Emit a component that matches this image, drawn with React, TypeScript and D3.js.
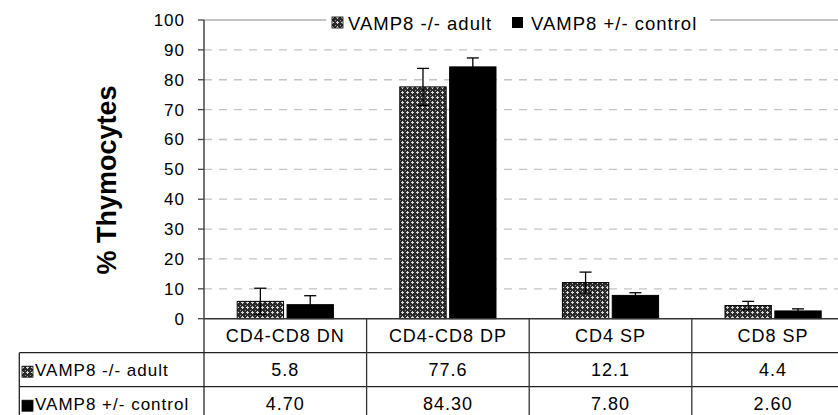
import React from "react";
import * as d3 from "d3";

// Thymocyte subsets (% of total) for VAMP8 knockout vs. heterozygous control
const categories = ["CD4-CD8 DN", "CD4-CD8 DP", "CD4 SP", "CD8 SP"];
const seriesNames = ["VAMP8 -/- adult", "VAMP8 +/- control"];
const koValues = [5.8, 77.6, 12.1, 4.4];
const ctrlValues = [4.7, 84.3, 7.8, 2.6];
const koErrors = [4.4, 6.2, 3.5, 1.4];
const ctrlErrors = [3.0, 3.0, 0.9, 0.7];
const yTicks = [0, 10, 20, 30, 40, 50, 60, 70, 80, 90, 100];

const W = 838;
const H = 415;
const FONT = "'Liberation Sans', Arial, Helvetica, sans-serif";

export default function App() {
  const axisX = 204;
  const catW = 162.6;
  const y = d3.scaleLinear().domain([0, 100]).range([318.7, 20]);
  const x = d3
    .scaleBand<string>()
    .domain(categories)
    .range([axisX, axisX + catW * categories.length]);
  const barW = catW * 0.285;
  const gap = 3.5;
  const sx = d3
    .scaleOrdinal<string, number>()
    .domain(seriesNames)
    .range([-gap / 2 - barW, gap / 2]);

  const series = [
    { name: seriesNames[0], values: koValues, errors: koErrors, fill: "url(#checker)", fmt: d3.format(".1f") },
    { name: seriesNames[1], values: ctrlValues, errors: ctrlErrors, fill: "#000", fmt: d3.format(".2f") },
  ];

  const tableLeft = 19.3;
  const rowH = 34;
  const headTop = y(0);
  const rowTops = [headTop, headTop + rowH, headTop + rowH * 2, headTop + rowH * 3];
  const right = W + 20;
  const ls = 1;

  return (
    <svg
      width={W}
      height={H}
      style={{ position: "absolute", left: 0, top: 0, background: "#fff" }}
      fontFamily={FONT}
    >
      <defs>
        <pattern id="checker" width="5" height="5" patternUnits="userSpaceOnUse">
          <rect width="5" height="5" fill="#2a2a2a" />
          <rect x="1" y="2" width="3" height="1" fill="#d8d8d8" />
          <rect x="2" y="1" width="1" height="3" fill="#d8d8d8" />
          <rect x="0" y="0" width="1" height="1" fill="#9a9a9a" />
        </pattern>
      </defs>

      {/* gridlines */}
      {yTicks.filter((t) => t > 0 && t < 100).map((t) => (
        <line
          key={t}
          x1={axisX}
          x2={W}
          y1={y(t)}
          y2={y(t)}
          stroke="#c4c4c4"
          strokeWidth={1.3}
          strokeDasharray="8 7"
        />
      ))}
      <line x1={axisX} x2={W} y1={y(100)} y2={y(100)} stroke="#b0b0b0" strokeWidth={1.5} />

      {/* bars */}
      {series.map((s) =>
        categories.map((c, i) => {
          const bx = (x(c) as number) + x.bandwidth() / 2 + (sx(s.name) as number);
          const top = y(s.values[i]);
          return (
            <rect
              key={s.name + c}
              x={bx}
              y={top}
              width={barW}
              height={y(0) - top}
              fill={s.fill}
              stroke="#000"
              strokeWidth={1}
            />
          );
        })
      )}

      {/* error bars */}
      {series.map((s) =>
        categories.map((c, i) => {
          const cx = (x(c) as number) + x.bandwidth() / 2 + (sx(s.name) as number) + barW / 2;
          const hi = y(s.values[i] + s.errors[i]);
          const lo = y(s.values[i] - s.errors[i]);
          const capW = 6;
          return (
            <g key={"e" + s.name + c} stroke="#000" strokeWidth={1.3}>
              <line x1={cx} x2={cx} y1={hi} y2={lo} />
              <line x1={cx - capW} x2={cx + capW} y1={hi} y2={hi} />
              <line x1={cx - capW} x2={cx + capW} y1={lo} y2={lo} />
            </g>
          );
        })
      )}

      {/* x axis line */}
      <line x1={axisX} x2={W} y1={y(0)} y2={y(0)} stroke="#333" strokeWidth={1.5} />

      {/* y axis */}
      <line x1={axisX} x2={axisX} y1={y(100)} y2={H} stroke="#444" strokeWidth={1.5} />
      {yTicks.map((t) => (
        <g key={"t" + t}>
          <line x1={axisX - 6} x2={axisX} y1={y(t)} y2={y(t)} stroke="#444" strokeWidth={1.3} />
          <text
            x={axisX - 19}
            y={y(t) + 6}
            textAnchor="end"
            fontSize={17}
            letterSpacing={ls}
            fill="#000"
          >
            {t}
          </text>
        </g>
      ))}

      {/* y axis title */}
      <text
        transform="translate(116,180) rotate(-90)"
        textAnchor="middle"
        fontSize={27}
        fontWeight="bold"
        fill="#000"
      >
        % Thymocytes
      </text>

      {/* data table */}
      {[rowTops[1], rowTops[2]].map((ty, k) => (
        <line key={"h" + k} x1={tableLeft} x2={right} y1={ty} y2={ty} stroke="#222" strokeWidth={1.3} />
      ))}
      <line x1={tableLeft} x2={tableLeft} y1={rowTops[1]} y2={H} stroke="#222" strokeWidth={1.3} />
      {categories.map((c, i) =>
        i > 0 ? (
          <line
            key={"v" + c}
            x1={x(c) as number}
            x2={x(c) as number}
            y1={y(0)}
            y2={H}
            stroke="#333"
            strokeWidth={1.3}
          />
        ) : null
      )}
      {categories.map((c) => (
        <text
          key={"c" + c}
          x={(x(c) as number) + x.bandwidth() / 2}
          y={rowTops[0] + 23}
          textAnchor="middle"
          fontSize={18}
          letterSpacing={ls}
          fill="#000"
        >
          {c}
        </text>
      ))}
      {series.map((s, r) => (
        <g key={"row" + s.name}>
          <rect
            x={22}
            y={rowTops[r + 1] + 13.5}
            width={11}
            height={11}
            fill={s.fill}
            stroke="#000"
            strokeWidth={0.8}
          />
          <text x={35} y={rowTops[r + 1] + 23.5} fontSize={17} letterSpacing={ls} fill="#000">
            {s.name}
          </text>
          {categories.map((c, i) => (
            <text
              key={"v" + c}
              x={(x(c) as number) + x.bandwidth() / 2}
              y={rowTops[r + 1] + 23.5}
              textAnchor="middle"
              fontSize={18}
              letterSpacing={ls}
              fill="#000"
            >
              {s.fmt(s.values[i])}
            </text>
          ))}
        </g>
      ))}

      {/* legend */}
      <rect x={326} y={8} width={384} height={24} fill="#fff" />
      <rect x={332} y={17} width={11} height={11} fill="url(#checker)" stroke="#000" strokeWidth={0.8} />
      <text x={348} y={30} fontSize={18.5} letterSpacing={ls} fill="#000">
        {seriesNames[0]}
      </text>
      <rect x={512} y={17} width={11} height={11} fill="#000" />
      <text x={531} y={30} fontSize={18.5} letterSpacing={ls} fill="#000">
        {seriesNames[1]}
      </text>
    </svg>
  );
}
